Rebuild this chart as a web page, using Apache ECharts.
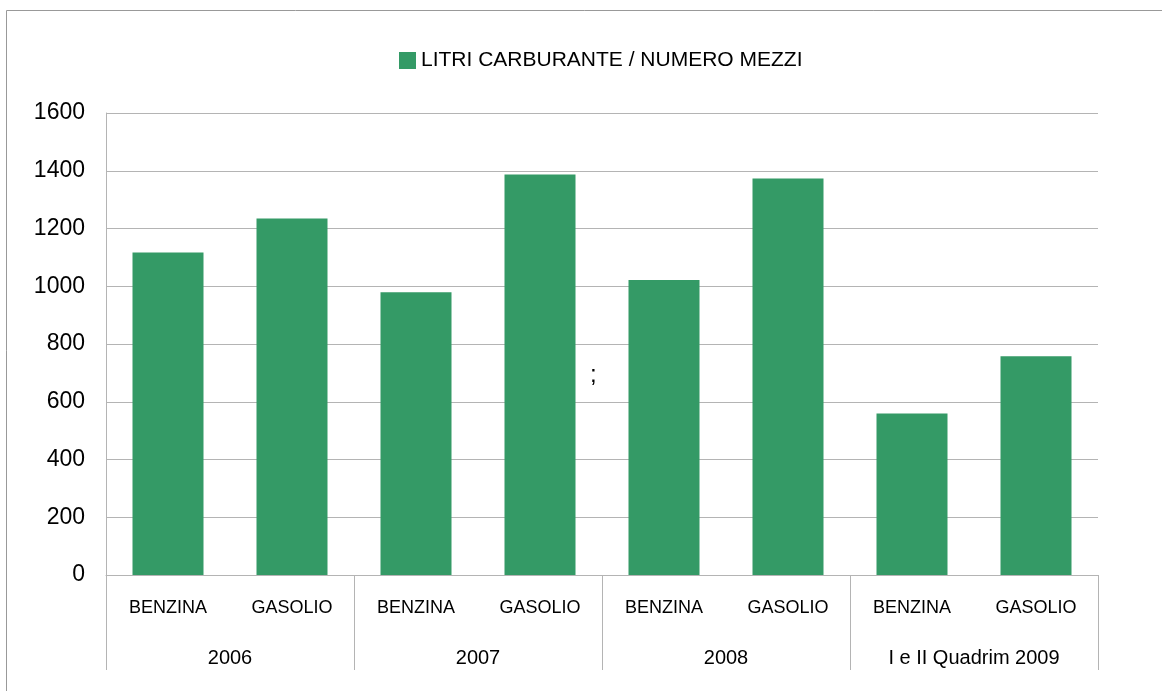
<!DOCTYPE html>
<html>
<head>
<meta charset="utf-8">
<script src="https://cdn.jsdelivr.net/npm/echarts@6/dist/echarts.min.js"></script>
<style>
  html, body { margin: 0; padding: 0; background: #fff; }
  #chart { width: 1162px; height: 691px; }
</style>
</head>
<body>
<div id="chart"></div>
<script>
// dati
const seriesName = 'LITRI CARBURANTE / NUMERO MEZZI'
const fuels = ['BENZINA', 'GASOLIO', 'BENZINA', 'GASOLIO', 'BENZINA', 'GASOLIO', 'BENZINA', 'GASOLIO']
const periods = ['2006', '2007', '2008', 'I e II Quadrim 2009']
const litriPerMezzo = [1117, 1235, 979, 1387, 1022, 1373, 559, 758]

const gray = '#b4b4b4'
const chart = echarts.init(document.getElementById('chart'))

const option = {
  animation: false,
  textStyle: { fontFamily: 'Liberation Sans', color: '#000' },
  legend: {
    left: 394,
    top: 45,
    icon: 'rect',
    itemWidth: 17,
    itemHeight: 17,
    itemGap: 5,
    textStyle: { fontSize: 21, color: '#000', fontFamily: 'Liberation Sans', padding: [2, 0, 0, 0] },
    data: [seriesName]
  },
  grid: { left: 106, right: 64, top: 113, bottom: 116 },
  xAxis: [
    {
      type: 'category',
      data: fuels,
      axisLine: { lineStyle: { color: gray } },
      axisTick: { show: false },
      axisLabel: { interval: 0, margin: 24, fontSize: 18, color: '#000', fontFamily: 'Liberation Sans' }
    },
    {
      type: 'category',
      data: periods,
      position: 'bottom',
      axisLine: { show: false },
      axisTick: { show: true, interval: 0, length: 95, lineStyle: { color: gray } },
      axisLabel: { interval: 0, margin: 73, fontSize: 20, color: '#000', fontFamily: 'Liberation Sans' }
    }
  ],
  yAxis: {
    type: 'value',
    min: 0,
    max: 1600,
    interval: 200,
    axisLine: { show: true, lineStyle: { color: gray } },
    axisTick: { show: false },
    axisLabel: { fontSize: 23, color: '#000', margin: 21, formatter: v => String(v) },
    splitLine: { lineStyle: { color: gray } }
  },
  series: [
    {
      name: seriesName,
      type: 'bar',
      xAxisIndex: 0,
      data: litriPerMezzo,
      barWidth: 71,
      itemStyle: { color: '#349a66' }
    }
  ],
  graphic: [
    // cornice esterna
    { type: 'polyline', shape: { points: [[6.5, 691], [6.5, 10.5], [1162, 10.5]] }, style: { stroke: '#999', fill: null, lineWidth: 1 } },
    // punto e virgola isolato
    { type: 'text', left: 590, top: 363, style: { text: ';', fontSize: 24, fill: '#000', fontFamily: 'Liberation Sans' } }
  ]
}

chart.setOption(option)
</script>
</body>
</html>
